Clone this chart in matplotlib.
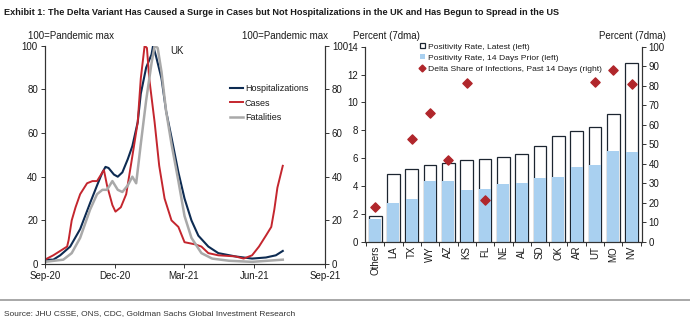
import matplotlib
matplotlib.use("Agg")
import matplotlib.pyplot as plt
import matplotlib.dates as mdates
from matplotlib.patches import Patch
from matplotlib.lines import Line2D
import numpy as np
import pandas as pd

# ---- UK series, indexed to pandemic max (days since 1 Sep 2020) ----
cases_days = [0, 11, 29, 31, 35, 40, 46, 55, 62, 68, 75, 77, 81, 88, 92, 99, 106, 112,
              117, 121, 125, 130, 133, 136, 143, 149, 156, 165, 174, 182, 196, 204, 213,
              226, 248, 259, 270, 279, 288, 295, 299, 303, 310]
cases_vals = [2, 4, 8, 11, 20, 26, 32, 37, 38, 38, 42, 43, 36, 27, 24, 26, 32, 45,
              56, 65, 85, 100, 99, 85, 65, 45, 30, 20, 17, 10, 9, 8, 5,
              4, 3.5, 2.5, 4, 8, 13, 17, 25, 35, 45]

hosp_days = [0, 11, 20, 33, 46, 59, 68, 75, 79, 83, 90, 95, 101, 108, 114, 121, 125,
             132, 139, 141, 145, 152, 158, 165, 174, 182, 191, 200, 213, 226, 248,
             270, 288, 301, 310]
hosp_vals = [2, 2, 4, 8, 16, 28, 36, 42, 44.5, 44, 41, 40, 42, 48, 54, 65, 78,
             90, 96, 100, 95, 85, 70, 58, 42, 30, 20, 13, 8, 5, 3.5,
             2.5, 3, 4, 6]

fat_days = [0, 24, 35, 46, 59, 68, 75, 81, 88, 95, 101, 108, 114, 119, 125, 132, 139,
            143, 147, 152, 158, 165, 174, 182, 191, 204, 218, 240, 270, 310]
fat_vals = [1, 2, 5, 12, 25, 32, 34, 34, 38, 34, 33, 36, 40, 37, 55, 75, 92,
            100, 99, 88, 70, 55, 38, 22, 12, 5, 2.5, 1.5, 1, 2]

# ---- US states: positivity rate and delta share ----
states = ["Others", "LA", "TX", "WY", "AZ", "KS", "FL", "NE", "AL", "SD", "OK", "AR", "UT", "MO", "NV"]
pos_latest = [1.87, 4.9, 5.26, 5.48, 5.67, 5.84, 5.91, 6.08, 6.27, 6.84, 7.6, 7.97, 8.26, 9.14, 12.85]
pos_prior = [1.67, 2.82, 3.04, 4.35, 4.35, 3.73, 3.76, 4.16, 4.21, 4.57, 4.62, 5.38, 5.53, 6.53, 6.44]
delta_share = [18, np.nan, 52.5, 66, 42, 81.5, 21.5, np.nan, np.nan, np.nan, np.nan, np.nan, 82, 88, 81]

start = pd.Timestamp("2020-09-01")
navy = "#0d2b52"
red = "#c4262e"
grey = "#a9a9a9"
light_blue = "#a9d0f0"
diamond_red = "#b0262b"
txt = "#1a1a1a"

plt.rcParams["font.family"] = ["Liberation Sans", "DejaVu Sans"]
plt.rcParams["font.size"] = 7
plt.rcParams["text.color"] = txt
plt.rcParams["axes.edgecolor"] = "#333333"
plt.rcParams["xtick.color"] = "#333333"
plt.rcParams["ytick.color"] = "#333333"
plt.rcParams["xtick.labelcolor"] = txt
plt.rcParams["ytick.labelcolor"] = txt

fig = plt.figure(figsize=(6.9, 3.22), dpi=100)

fig.text(0.006, 0.962, "Exhibit 1: The Delta Variant Has Caused a Surge in Cases but Not Hospitalizations in the UK and Has Begun to Spread in the US",
         fontsize=6.6, fontweight="bold", va="center")

# ---------- left panel: UK ----------
ax = fig.add_axes([0.065, 0.180, 0.406, 0.678])
to_dates = lambda d: [start + pd.Timedelta(days=x) for x in d]
ax.plot(to_dates(hosp_days), hosp_vals, color=navy, lw=1.5, label="Hospitalizations")
ax.plot(to_dates(cases_days), cases_vals, color=red, lw=1.4, label="Cases")
ax.plot(to_dates(fat_days), fat_vals, color=grey, lw=1.8, label="Fatalities")
ax.set_xlim(pd.Timestamp("2020-09-01"), pd.Timestamp("2021-09-01"))
ax.set_ylim(0, 100)
ax.set_yticks(range(0, 101, 20))
ax.xaxis.set_major_locator(mdates.MonthLocator(bymonth=[3, 6, 9, 12]))
ax.xaxis.set_major_formatter(mdates.DateFormatter("%b-%y"))
ax.spines["top"].set_visible(False)
ax.tick_params(length=3, width=0.7, pad=2)
ax.text(0.47, 1.0, "UK", transform=ax.transAxes, ha="center", va="top", fontsize=7)
ax.legend(loc="upper left", bbox_to_anchor=(0.64, 0.855), frameon=False, fontsize=6.5,
          handlelength=1.4, handletextpad=0.2, labelspacing=0.65, borderpad=0.2)
ax2 = ax.twinx()
ax2.set_ylim(0, 100)
ax2.set_yticks(range(0, 101, 20))
ax2.spines["top"].set_visible(False)
ax2.tick_params(length=3, width=0.7, pad=2)
fig.text(0.041, 0.889, "100=Pandemic max", fontsize=7, va="center")
fig.text(0.475, 0.889, "100=Pandemic max", fontsize=7, va="center", ha="right")

# ---------- right panel: US states ----------
bx = fig.add_axes([0.529, 0.249, 0.401, 0.606])
xpos = np.arange(len(states))
bx.bar(xpos, pos_latest, width=0.7, facecolor="white", edgecolor="#1c2530", lw=0.9)
bx.bar(xpos, pos_prior, width=0.7 - 0.04, facecolor=light_blue, edgecolor="none")
bx.set_ylim(0, 14)
bx.set_yticks(range(0, 15, 2))
bx.set_xlim(-0.55, len(states) - 0.45)
bx.set_xticks(xpos)
bx.set_xticklabels(states, rotation=90)
bx.tick_params(axis="x", length=0, pad=3)
bx.set_xticks(np.arange(-0.5, len(states), 1), minor=True)
bx.tick_params(axis="x", which="minor", length=3, width=0.7)
bx.tick_params(axis="y", length=3, width=0.7, pad=2)
bx.spines["top"].set_visible(False)

bx2 = bx.twinx()
bx2.scatter(xpos, delta_share, marker="D", s=22, color=diamond_red, zorder=3)
bx2.set_ylim(0, 100)
bx2.set_yticks(range(0, 101, 10))
bx2.spines["top"].set_visible(False)
bx2.tick_params(length=3, width=0.7, pad=2)
fig.text(0.511, 0.889, "Percent (7dma)", fontsize=7, va="center")
fig.text(0.965, 0.889, "Percent (7dma)", fontsize=7, va="center", ha="right")

handles = [Patch(facecolor="white", edgecolor="#1c2530", lw=0.9, label="Positivity Rate, Latest (left)"),
           Patch(facecolor=light_blue, edgecolor="none", label="Positivity Rate, 14 Days Prior (left)"),
           Line2D([], [], marker="D", color=diamond_red, ls="none", markersize=3.5,
                  label="Delta Share of Infections, Past 14 Days (right)")]
bx.legend(handles=handles, loc="upper left", bbox_to_anchor=(0.18, 1.045), frameon=False,
          fontsize=6.1, handlelength=0.6, handleheight=0.6, handletextpad=0.3,
          labelspacing=0.4, borderpad=0.1)

# ---------- footer ----------
fig.add_artist(Line2D([0.0, 1.0], [0.068, 0.068], color="#9a9a9a", lw=1.2, transform=fig.transFigure))
fig.text(0.006, 0.025, "Source: JHU CSSE, ONS, CDC, Goldman Sachs Global Investment Research",
         fontsize=6, va="center", color="#333333")

plt.savefig("out.png", dpi=100)
